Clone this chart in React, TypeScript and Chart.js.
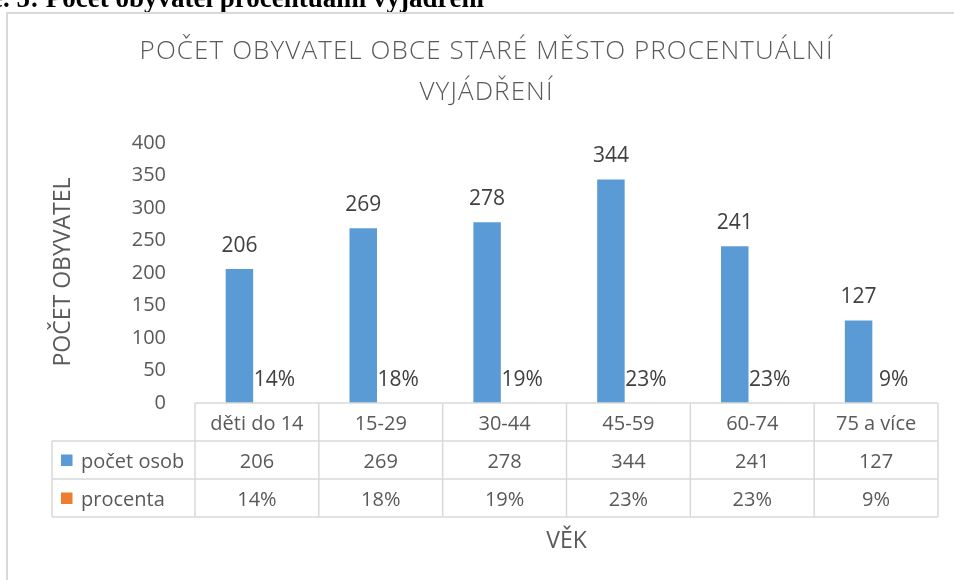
import React, { useEffect, useRef } from "react";
import { Chart, registerables } from "chart.js";

Chart.register(...registerables);

const caption = "e. 5: Počet obyvatel procentuální vyjádření";
const titleLines = ["POČET OBYVATEL OBCE STARÉ MĚSTO PROCENTUÁLNÍ", "VYJÁDŘENÍ"];
const yAxisTitle = "POČET OBYVATEL";
const xAxisTitle = "VĚK";
const categories = ["děti do 14", "15-29", "30-44", "45-59", "60-74", "75 a více"];
const seriesNames = ["počet osob", "procenta"];
const countValues = [206, 269, 278, 344, 241, 127];
const percentValues = [0.14, 0.18, 0.19, 0.23, 0.23, 0.09];
const yMin = 0;
const yMax = 400;
const yStep = 50;

const BLUE = "#5B9BD5";
const ORANGE = "#ED7D31";
const TEXT = "#595959";
const LABEL = "#404040";
const GRID = "#D9D9D9";
const FONT = '"Open Sans", "DejaVu Sans", sans-serif';

const fmtCount = (v: number) => String(v);
const fmtPercent = (v: number) => Math.round(v * 100) + "%";
const formatters = [fmtCount, fmtPercent];
const seriesColors = [BLUE, ORANGE];
const seriesValues = [countValues, percentValues];

const decorPlugin = {
  id: "decor",
  beforeDraw(chart: any) {
    const ctx = chart.ctx;
    ctx.save();
    ctx.fillStyle = "#ffffff";
    ctx.fillRect(0, 0, chart.width, chart.height);
    // caption (cut off at top)
    ctx.fillStyle = "#000000";
    ctx.font = 'bold 27px "Liberation Serif", serif';
    ctx.textAlign = "left";
    ctx.textBaseline = "alphabetic";
    ctx.fillText(caption, -9, 7);
    // frame
    ctx.strokeStyle = GRID;
    ctx.lineWidth = 2;
    ctx.strokeRect(7, 13, chart.width + 20, chart.height + 20);
    ctx.restore();
  },
  afterDatasetsDraw(chart: any) {
    const ctx = chart.ctx;
    ctx.save();
    ctx.font = "21px " + FONT;
    ctx.fillStyle = LABEL;
    ctx.textAlign = "center";
    ctx.textBaseline = "alphabetic";
    chart.data.datasets.forEach((ds: any, di: number) => {
      const meta = chart.getDatasetMeta(di);
      meta.data.forEach((el: any, i: number) => {
        ctx.fillText(formatters[di](ds.data[i]), el.x, el.y - 17);
      });
    });
    ctx.restore();
  },
  afterDraw(chart: any) {
    const ctx = chart.ctx;
    const area = chart.chartArea;
    const xs = chart.scales.x;
    const n = categories.length;
    const colW = (area.right - area.left) / n;
    const rowH = 38;
    const top = area.bottom;
    const legLeft = 52;
    ctx.save();
    // title
    ctx.fillStyle = TEXT;
    ctx.font = "300 26px " + FONT;
    ctx.textAlign = "left";
    ctx.textBaseline = "alphabetic";
    const w0 = ctx.measureText(titleLines[0]).width;
    const ls = Math.max(0, (694 - w0) / titleLines[0].length);
    ctx.letterSpacing = ls.toFixed(2) + "px";
    const tBase = [59, 100];
    titleLines.forEach((line, k) => {
      const w = ctx.measureText(line).width - ls;
      ctx.fillText(line, 486 - w / 2, tBase[k]);
    });
    ctx.letterSpacing = "0px";
    ctx.textAlign = "center";
    // y axis title
    ctx.save();
    ctx.translate(70, 272);
    ctx.rotate(-Math.PI / 2);
    ctx.font = "23px " + FONT;
    ctx.fillText(yAxisTitle, 0, 0);
    ctx.restore();
    // x axis title
    ctx.font = "23px " + FONT;
    ctx.fillText(xAxisTitle, (area.left + area.right) / 2, 548);

    // table lines
    ctx.strokeStyle = GRID;
    ctx.lineWidth = 1.5;
    ctx.beginPath();
    ctx.moveTo(area.left, top);
    ctx.lineTo(area.right, top);
    for (let r = 1; r <= 3; r++) {
      ctx.moveTo(legLeft, top + r * rowH);
      ctx.lineTo(area.right, top + r * rowH);
    }
    ctx.moveTo(legLeft, top + rowH);
    ctx.lineTo(legLeft, top + 3 * rowH);
    for (let i = 0; i <= n; i++) {
      const x = area.left + i * colW;
      ctx.moveTo(x, top);
      ctx.lineTo(x, top + 3 * rowH);
    }
    ctx.stroke();

    // table text
    ctx.font = "20px " + FONT;
    ctx.fillStyle = TEXT;
    ctx.textAlign = "center";
    for (let i = 0; i < n; i++) {
      const cx = xs.getPixelForValue(i);
      ctx.fillText(categories[i], cx, top + 27);
      for (let s = 0; s < 2; s++) {
        ctx.fillText(formatters[s](seriesValues[s][i]), cx, top + (s + 1) * rowH + 26.5);
      }
    }
    // legend keys
    ctx.textAlign = "left";
    for (let s = 0; s < 2; s++) {
      const ry = top + (s + 1) * rowH;
      ctx.fillStyle = seriesColors[s];
      ctx.fillRect(61, ry + 13.5, 11.5, 11.5);
      ctx.fillStyle = TEXT;
      ctx.fillText(seriesNames[s], 81, ry + 26.5);
    }
    ctx.restore();
  },
};

export default function App() {
  const ref = useRef<HTMLCanvasElement | null>(null);
  useEffect(() => {
    if (!ref.current) return;
    const chart = new Chart(ref.current, {
      type: "bar",
      data: {
        labels: categories,
        datasets: [
          {
            label: seriesNames[0],
            data: countValues,
            backgroundColor: BLUE,
            borderWidth: 0,
            categoryPercentage: 0.565,
            barPercentage: 0.786,
          },
          {
            label: seriesNames[1],
            data: percentValues,
            backgroundColor: ORANGE,
            borderWidth: 0,
            categoryPercentage: 0.565,
            barPercentage: 0.786,
          },
        ],
      },
      options: {
        responsive: false,
        animation: false,
        devicePixelRatio: 1,
        layout: { padding: { top: 143, left: 0, right: 16, bottom: 177 } },
        plugins: {
          legend: { display: false },
          title: { display: false },
          tooltip: { enabled: false },
        },
        scales: {
          x: {
            display: false,
          },
          y: {
            min: yMin,
            max: yMax,
            grid: { display: false, drawTicks: false },
            border: { display: false },
            ticks: {
              stepSize: yStep,
              color: TEXT,
              padding: 29,
              font: { family: FONT, size: 20 },
            },
            afterFit: (s: any) => {
              s.width = 195;
            },
          },
        },
      },
      plugins: [decorPlugin],
    });
    return () => chart.destroy();
  }, []);
  return (
    <div style={{ position: "absolute", left: 0, top: 0, width: 954, height: 580 }}>
      <canvas ref={ref} width={954} height={580} />
    </div>
  );
}
